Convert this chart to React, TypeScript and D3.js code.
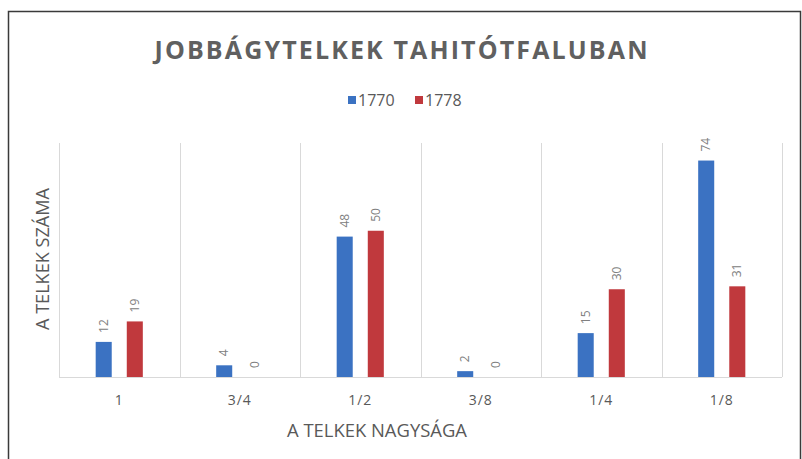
import * as d3 from 'd3';
import { useMemo } from 'react';

const categories = ['1', '3/4', '1/2', '3/8', '1/4', '1/8'];
const seriesNames = ['1770', '1778'];
const values1770 = [12, 4, 48, 2, 15, 74];
const values1778 = [19, 0, 50, 0, 30, 31];
const colors = ['#3b72c2', '#c0393d'];

export default function App() {
  const width = 802;
  const height = 459;
  const marginLeft = 59;
  const marginRight = 20;
  const marginTop = 143;
  const marginBottom = 82;

  const { x0, x1, y } = useMemo(() => {
    const x0 = d3
      .scaleBand<string>()
      .domain(categories)
      .range([marginLeft, width - marginRight])
      .padding(0);
    const x1 = d3
      .scaleBand<string>()
      .domain(seriesNames)
      .range([0, x0.bandwidth()])
      .paddingInner(0.484)
      .paddingOuter(1.18);
    const y = d3.scaleLinear([0, 80], [height - marginBottom, marginTop]);
    return { x0, x1, y };
  }, []);

  const series = [values1770, values1778];
  const base = y(0);
  const gridX = [...categories.map((c) => x0(c)!), x0.range()[1]];
  const font = "'Open Sans', sans-serif";

  return (
    <svg
      width={width}
      height={height}
      style={{ position: 'absolute', left: 0, top: 0, background: '#fff' }}
    >
      <rect
        x={8.5}
        y={11.5}
        width={792}
        height={460}
        fill='#fff'
        stroke='#3a3a3a'
        strokeWidth={1.5}
      />
      <text
        x={401}
        y={59}
        textAnchor='middle'
        fontFamily={font}
        fontWeight={700}
        fontSize={25}
        fill='#606060'
        textLength={493}
        lengthAdjust='spacing'
      >
        JOBBÁGYTELKEK TAHITÓTFALUBAN
      </text>

      <g fontFamily={font} fontSize={16} fill='#595959'>
        {seriesNames.map((s, i) => {
          const lx = i === 0 ? 348 : 415;
          return (
            <g key={s}>
              <rect x={lx} y={96} width={8} height={8} fill={colors[i]} />
              <text x={lx + 10} y={106}>
                {s}
              </text>
            </g>
          );
        })}
      </g>

      <g stroke='#d9d9d9' strokeWidth={1}>
        {gridX.map((gx, i) => (
          <line
            key={i}
            x1={Math.round(gx) + 0.5}
            x2={Math.round(gx) + 0.5}
            y1={marginTop}
            y2={base}
          />
        ))}
        <line x1={marginLeft} x2={x0.range()[1]} y1={base + 0.5} y2={base + 0.5} />
      </g>

      {categories.map((c, ci) => (
        <g key={c} transform={`translate(${x0(c)},0)`}>
          {seriesNames.map((s, si) => {
            const v = series[si][ci];
            const bx = x1(s)!;
            const top = y(v);
            return (
              <g key={s}>
                <rect
                  x={bx}
                  y={top}
                  width={x1.bandwidth()}
                  height={base - top}
                  fill={colors[si]}
                />
                <text
                  transform={`translate(${bx + x1.bandwidth() / 2 + 1},${top - 9}) rotate(-90)`}
                  dominantBaseline='middle'
                  fontFamily={font}
                  fontSize={12}
                  fill='#808080'
                >
                  {v}
                </text>
              </g>
            );
          })}
          <text
            x={x0.bandwidth() / 2}
            y={405}
            textAnchor='middle'
            fontFamily={font}
            fontSize={14}
            letterSpacing={1}
            fill='#595959'
          >
            {c}
          </text>
        </g>
      ))}

      <text
        x={377}
        y={437}
        textAnchor='middle'
        fontFamily={font}
        fontSize={18}
        fill='#595959'
        textLength={180}
        lengthAdjust='spacingAndGlyphs'
      >
        A TELKEK NAGYSÁGA
      </text>
      <text
        transform='translate(49,259) rotate(-90)'
        textAnchor='middle'
        fontFamily={font}
        fontSize={18}
        fill='#595959'
        textLength={142}
        lengthAdjust='spacingAndGlyphs'
      >
        A TELKEK SZÁMA
      </text>
    </svg>
  );
}
